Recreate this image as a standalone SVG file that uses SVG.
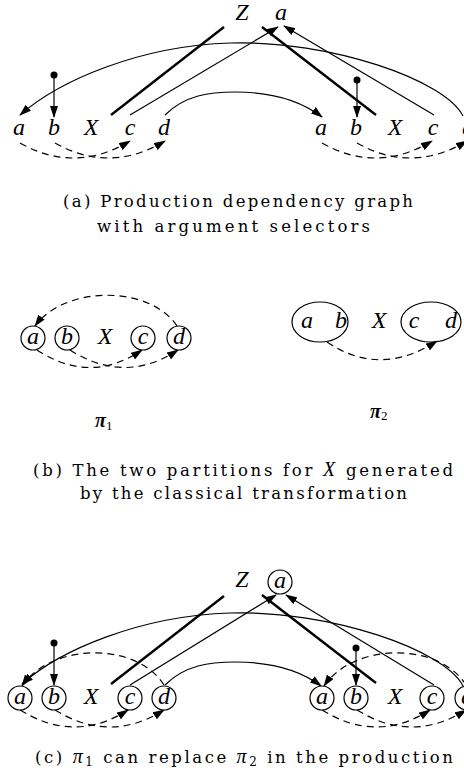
<svg xmlns="http://www.w3.org/2000/svg" width="464" height="782" viewBox="0 0 464 782">
<style>
.m { font-family: "Liberation Serif", serif; font-style: italic; font-size: 24px; text-anchor: middle; fill: #000; }
.cap { font-family: "DejaVu Serif", "Liberation Serif", serif; font-size: 16.5px; fill: #000; }
.capm { font-family: "Liberation Serif", serif; font-style: italic; font-size: 20px; }
.pi { font-family: "Liberation Serif", serif; font-style: italic; font-weight: bold; font-size: 20px; fill: #000; }
.thin { stroke: #000; stroke-width: 1.2; fill: none; }
.thick { stroke: #000; stroke-width: 2.4; fill: none; }
.dash { stroke: #000; stroke-width: 1.2; fill: none; stroke-dasharray: 7 5; }
.ring { fill: #fff; stroke: #000; stroke-width: 1.2; }
.arr { marker-end: url(#ah); }
</style>
<defs>
<marker id="ah" markerWidth="12" markerHeight="8" refX="11" refY="4" orient="auto" markerUnits="userSpaceOnUse">
<path d="M0,0 L12,4 L0,8 z" fill="#000"/>
</marker>
</defs>
<rect width="464" height="782" fill="#fff"/>

<!-- ===== (a) ===== -->
<g id="connectors-a">
<circle cx="54" cy="75" r="3.5" fill="#000"/>
<path class="thin arr" d="M54 75 L54 117"/>
<circle cx="357" cy="80" r="3.5" fill="#000"/>
<path class="thin arr" d="M357 80 L357 117"/>
<path class="thick" d="M111 115 L224 27"/>
<path class="thin arr" d="M130 115 L278 27"/>
<path class="thick" d="M262 27 L376 115"/>
<path class="thin arr" d="M434 115 L284 26"/>
<path class="thin arr" d="M463 116 C445 80, 330 40, 230 43 C140 46, 60 80, 20 115"/>
<path class="thin arr" d="M165 115 C185 95, 210 92, 235 92 C270 92, 300 100, 322 117"/>
<path class="dash arr" d="M20 143 Q75 174, 130 141"/>
<path class="dash arr" d="M55 143 Q110 174, 165 141"/>
<path class="dash arr" d="M322 143 Q377 174, 432 141"/>
<path class="dash arr" d="M357 143 Q412 174, 467 141"/>
</g>
<g id="a-Z"><text class="m" x="242" y="20">Z</text></g>
<g id="a-top-a"><text class="m" x="281" y="20">a</text></g>
<g id="a-l-a"><text class="m" x="19" y="135">a</text></g>
<g id="a-l-b"><text class="m" x="54" y="135">b</text></g>
<g id="a-l-X"><text class="m" x="91" y="135">X</text></g>
<g id="a-l-c"><text class="m" x="130" y="135">c</text></g>
<g id="a-l-d"><text class="m" x="164" y="135">d</text></g>
<g id="a-r-a"><text class="m" x="321" y="135">a</text></g>
<g id="a-r-b"><text class="m" x="356" y="135">b</text></g>
<g id="a-r-X"><text class="m" x="395" y="135">X</text></g>
<g id="a-r-c"><text class="m" x="433" y="135">c</text></g>
<g id="a-r-d"><text class="m" x="468" y="135">d</text></g>
<text class="cap" x="63" y="207" textLength="350" lengthAdjust="spacing">(a) Production dependency graph</text>
<text class="cap" x="97" y="232" textLength="273" lengthAdjust="spacing">with argument selectors</text>

<!-- ===== (b) ===== -->
<g id="connectors-b">
<path class="dash arr" d="M177 326 C150 285, 65 285, 35 326"/>
<path class="dash arr" d="M37 350 Q90 385, 142 350"/>
<path class="dash arr" d="M70 350 Q125 385, 178 350"/>
<path class="dash arr" d="M327 342 Q380 378, 437 341"/>
</g>
<g id="b1-a"><circle class="ring" cx="33" cy="338" r="12"/><text class="m" x="33" y="344">a</text></g>
<g id="b1-b"><circle class="ring" cx="67" cy="338" r="12"/><text class="m" x="67" y="344">b</text></g>
<g id="b1-X"><text class="m" x="105" y="344">X</text></g>
<g id="b1-c"><circle class="ring" cx="143" cy="338" r="12"/><text class="m" x="143" y="344">c</text></g>
<g id="b1-d"><circle class="ring" cx="179" cy="338" r="12"/><text class="m" x="179" y="344">d</text></g>
<g id="b2-ab"><ellipse class="ring" style="fill:none" cx="320" cy="322" rx="28" ry="20"/><text class="m" x="307" y="328">a</text><text class="m" x="341" y="328">b</text></g>
<g id="b2-X"><text class="m" x="379" y="328">X</text></g>
<g id="b2-cd"><ellipse class="ring" style="fill:none" cx="431" cy="322" rx="30" ry="20"/><text class="m" x="414" y="328">c</text><text class="m" x="451" y="328">d</text></g>
<text class="pi" x="95" y="427">π<tspan font-size="13" font-style="normal" font-weight="normal" dy="3">1</tspan></text>
<text class="pi" x="370" y="418">π<tspan font-size="13" font-style="normal" font-weight="normal" dy="2">2</tspan></text>
<text class="cap" x="33" y="476" textLength="420" lengthAdjust="spacing">(b) The two partitions for <tspan class="capm">X</tspan> generated</text>
<text class="cap" x="80" y="499" textLength="327" lengthAdjust="spacing">by the classical transformation</text>

<!-- ===== (c) ===== -->
<g id="connectors-c">
<path class="dash arr" d="M164 685 C137 642, 52 642, 22 686"/>
<path class="dash arr" d="M466 685 C439 642, 354 642, 324 686"/>
<circle cx="54" cy="643" r="3.5" fill="#000"/>
<path class="thin arr" d="M54 643 L54 685"/>
<circle cx="356" cy="648" r="3.5" fill="#000"/>
<path class="thin arr" d="M356 648 L356 685"/>
<path class="thick" d="M111 684 L224 596"/>
<path class="thin arr" d="M130 685 L276 595"/>
<path class="thick" d="M262 595 L376 683"/>
<path class="thin arr" d="M434 685 L286 595"/>
<path class="thin arr" d="M463 686 C445 650, 330 610, 230 613 C140 616, 60 650, 22 684"/>
<path class="thin arr" d="M165 685 C185 665, 210 662, 235 662 C270 662, 300 670, 321 686"/>
<path class="dash arr" d="M20 710 Q75 744, 128 710"/>
<path class="dash arr" d="M55 710 Q110 744, 164 710"/>
<path class="dash arr" d="M322 710 Q377 744, 430 710"/>
<path class="dash arr" d="M357 710 Q412 744, 466 710"/>
</g>
<g id="c-Z"><text class="m" x="242" y="587">Z</text></g>
<g id="c-top-a"><circle class="ring" style="fill:none" cx="280" cy="582" r="12"/><text class="m" x="280" y="588">a</text></g>
<g id="c-l-a"><circle class="ring" cx="20" cy="698" r="12"/><text class="m" x="20" y="704">a</text></g>
<g id="c-l-b"><circle class="ring" cx="54" cy="698" r="12"/><text class="m" x="54" y="704">b</text></g>
<g id="c-l-X"><text class="m" x="91" y="704">X</text></g>
<g id="c-l-c"><circle class="ring" cx="130" cy="698" r="12"/><text class="m" x="130" y="704">c</text></g>
<g id="c-l-d"><circle class="ring" cx="164" cy="698" r="12"/><text class="m" x="164" y="704">d</text></g>
<g id="c-r-a"><circle class="ring" cx="322" cy="698" r="12"/><text class="m" x="322" y="704">a</text></g>
<g id="c-r-b"><circle class="ring" cx="356" cy="698" r="12"/><text class="m" x="356" y="704">b</text></g>
<g id="c-r-X"><text class="m" x="395" y="704">X</text></g>
<g id="c-r-c"><circle class="ring" cx="432" cy="698" r="12"/><text class="m" x="432" y="704">c</text></g>
<g id="c-r-d"><circle class="ring" cx="467" cy="698" r="12"/><text class="m" x="467" y="704">d</text></g>
<text class="cap" x="35" y="763" textLength="418" lengthAdjust="spacing">(c) <tspan class="capm">π</tspan><tspan font-size="12" dy="3">1</tspan><tspan dy="-3"> can replace </tspan><tspan class="capm">π</tspan><tspan font-size="12" dy="3">2</tspan><tspan dy="-3"> in the production</tspan></text>
</svg>
